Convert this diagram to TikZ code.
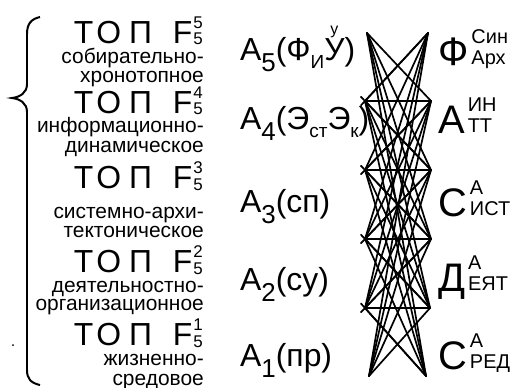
\documentclass[tikz,border=0pt]{standalone}
\usepackage{fontspec}
\setmainfont{Liberation Sans}
\usetikzlibrary{calc}

\newcommand{\fsz}[1]{\fontsize{#1}{#1}\selectfont}
% sub- and superscripts of the labels
\newcommand{\dsub}[1]{\raisebox{-12pt}{\fsz{26}#1}}
\newcommand{\lsub}[1]{\raisebox{-9pt}{\fsz{19}#1}}
\newcommand{\topidx}[2]{\hspace{1pt}\rlap{\raisebox{15pt}{\fsz{17}#1}}\raisebox{-2pt}{\fsz{17}#2}}
\newcommand{\ridx}[2]{\hspace{3pt}\rlap{\raisebox{22pt}{\fsz{20}#1}}\raisebox{1pt}{\fsz{20}#2}}
\newcommand{\topu}{\rlap{\hspace{6pt}\raisebox{26pt}{\fsz{16}у}}У}
\newcommand{\toprow}[2]{Т\hspace{3pt}О\hspace{8pt}П\hspace{21pt}F\topidx{#1}{#2}}

\begin{document}
\begin{tikzpicture}[
  x=1bp, y=-1bp,
  lbl/.style={inner sep=0pt, anchor=base east},
  topl/.style={lbl, font=\fsz{32}},
  desc/.style={lbl, font=\fsz{21}},
  aname/.style={inner sep=0pt, anchor=base west, font=\fsz{32}},
  rname/.style={inner sep=0pt, anchor=base west, font=\fsz{40}},
  lat/.style={line width=1.7pt, line cap=round}
]
  \useasboundingbox (0,0) rectangle (518,387);

  % --- brace
  \draw[line width=2pt] (40,17) .. controls (31,19) and (27,24) .. (27,34)
    -- (27,84) .. controls (27,93) and (20,97) .. (12,98)
    .. controls (20,99) and (27,103) .. (27,112)
    -- (27,370) .. controls (27,379) and (31,383) .. (40,385);
  \fill (13,345) circle (1);

  % --- levels F5
  \node[topl] (t5) at (203,43) {\toprow{5}{5}};
  \node[desc] (d5a) at (204,63) {собирательно-};
  \node[desc] (d5b) at (204,82) {хронотопное};
  \node[topl] (t4) at (203,113) {\toprow{4}{5}};
  \node[desc] (d4a) at (204,132) {информационно-};
  \node[desc] (d4b) at (204,152) {динамическое};
  \node[topl] (t3) at (203,188) {\toprow{3}{5}};
  \node[desc] (d3a) at (204,218) {системно-архи-};
  \node[desc] (d3b) at (204,237) {тектоническое};
  \node[topl] (t2) at (203,272) {\toprow{2}{5}};
  \node[desc] (d2a) at (204,292) {деятельностно-};
  \node[desc] (d2b) at (204,310) {организационное};
  \node[topl] (t1) at (203,345) {\toprow{1}{5}};
  \node[desc] (d1a) at (204,365) {жизненно-};
  \node[desc] (d1b) at (204,385) {средовое};

  % --- A column
  \node[aname] (a5) at (240,60) {A\dsub{5}(Ф\lsub{И}\topu)};
  \node[aname] (a4) at (240,129) {A\dsub{4}(Э\lsub{ст}Э\lsub{к})};
  \node[aname] (a3) at (240,212) {A\dsub{3}(сп)};
  \node[aname] (a2) at (240,290) {A\dsub{2}(су)};
  \node[aname] (a1) at (240,366) {A\dsub{1}(пр)};

  % --- right column
  \node[rname] (r5) at (438,65) {Ф\ridx{Син}{Арх}};
  \node[rname] (r4) at (438,133) {А\ridx{ИН}{ТТ}};
  \node[rname] (r3) at (438,216) {С\ridx{А}{ИСТ}};
  \node[rname] (r2) at (438,291) {Д\ridx{А}{ЕЯТ}};
  \node[rname] (r1) at (438,369) {С\ridx{А}{РЕД}};

  % --- lattice
  \foreach \k/\xl/\xr/\y in {1/367/428/33, 2/365/431/101, 3/365/431/170,
                             4/365/431/239, 5/365/430/308, 6/369/426/376} {
    \coordinate (L\k) at (\xl,\y);
    \coordinate (R\k) at (\xr,\y);
  }
  \foreach \i in {1,...,6}
    \foreach \j in {1,...,6}
      {\ifnum\i=\j\else\draw[lat] (L\i) -- (R\j);\fi}
  \foreach \k in {2,...,5}
    \draw[lat] (L\k) -- (R\k);
  \foreach \k/\u/\d in {2/1/3, 3/2/4, 4/3/5, 5/4/6} {
    \draw[lat, shorten <=-6bp] (L\k) -- (R\u);
    \draw[lat, shorten <=-6bp] (L\k) -- (R\d);
  }
\end{tikzpicture}
\end{document}
